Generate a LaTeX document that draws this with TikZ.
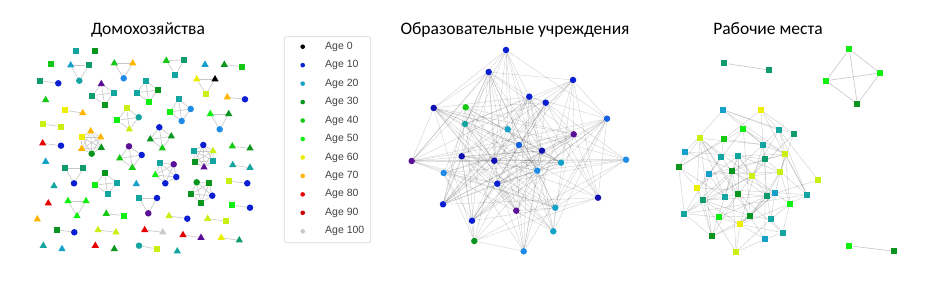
\documentclass[tikz,border=0pt]{standalone}
\usepackage{fontspec}
\setmainfont{Carlito}
\newfontfamily\legfont{Liberation Sans}
\usetikzlibrary{shapes.geometric}
\pgfdeclarelayer{edges}
\pgfsetlayers{edges,main}
\definecolor{cPurple}{HTML}{5A0F96}
\definecolor{cBlue}{HTML}{0A1ED2}
\definecolor{cNavy}{HTML}{1010B0}
\definecolor{cLtBlue}{HTML}{1E8CE6}
\definecolor{cMidBlue}{HTML}{1460E0}
\definecolor{cCyan}{HTML}{14A0C8}
\definecolor{cTeal}{HTML}{14A5A0}
\definecolor{cTealGreen}{HTML}{0F9B6E}
\definecolor{cDkGreen}{HTML}{0A961E}
\definecolor{cGreen}{HTML}{14C814}
\definecolor{cBright}{HTML}{10F010}
\definecolor{cYG}{HTML}{C8F014}
\definecolor{cYellow}{HTML}{EEEE00}
\definecolor{cOrange}{HTML}{FFB400}
\definecolor{cRed}{HTML}{E60000}
\definecolor{cDkRed}{HTML}{C80000}
\definecolor{cGray}{HTML}{C8C8C8}
\definecolor{legtext}{HTML}{444444}
\tikzset{
  ci/.style={circle,inner sep=0pt,minimum size=6.5pt,draw=none},
  sq/.style={rectangle,inner sep=0pt,minimum size=6.3pt,draw=none},
  tr/.style={regular polygon,regular polygon sides=3,inner sep=0pt,minimum size=8.5pt,draw=none},
  hedge/.style={draw=black!22,line width=0.6pt},
  medge/.style={draw=black,opacity=0.16,line width=0.45pt},
  redge/.style={draw=black,opacity=0.18,line width=0.45pt},
  title/.style={font=\fontsize{17.5}{20}\selectfont,anchor=base},
  legdot/.style={circle,inner sep=0pt,minimum size=4.6pt,draw=none},
  legtxt/.style={anchor=west,font=\legfont\fontsize{10.5}{12}\selectfont,text=legtext,inner sep=0pt}
}
\newcommand\hhgroup[2]{%
  \foreach \s/\cc/\px/\py [count=\k] in {#2}{\node[\s,fill=\cc] (#1\k) at (\px,\py) {}; \xdef\hhn{\k}}%
  \begin{pgfonlayer}{edges}
  \foreach \i in {1,...,\hhn}{\foreach \j in {\i,...,\hhn}{\ifnum\j>\i \draw[hedge] (#1\i) -- (#1\j);\fi}}
  \end{pgfonlayer}
}
\begin{document}
\begin{tikzpicture}[x=1pt,y=-1pt]
\useasboundingbox (0,0) rectangle (941,283);
\begin{pgfonlayer}{edges}
\fill[white] (0,0) rectangle (941,283);
\end{pgfonlayer}
% titles
\node[title] (t1) at (148,34.7) {Домохозяйства};
\node[title] (t2) at (515,34.7) {Образовательные учреждения};
\node[title] (t3) at (768,34.7) {Рабочие места};
% ---------- left panel ----------
\hhgroup{sa}{sq/cTeal/76/50.7}
\hhgroup{sb}{sq/cDkGreen/95/50.7}
\hhgroup{sc}{sq/cGreen/51/64.3}
\hhgroup{sd}{tr/cCyan/205/64.7}
\hhgroup{se}{tr/cGreen/45.7/100}
\hhgroup{sf}{tr/cCyan/45.7/161.7}
\hhgroup{sg}{tr/cTeal/54/186}
\hhgroup{sh}{tr/cCyan/136.3/184}
\hhgroup{si}{tr/cRed/48.3/203.3}
\hhgroup{sj}{tr/cOrange/37.3/219.3}
\hhgroup{sk}{tr/cTeal/43.3/245.7}
\hhgroup{sl}{tr/cCyan/62/249}
\hhgroup{sm}{tr/cRed/95.3/245.7}
\hhgroup{sn}{tr/cDkGreen/114.3/249}
\hhgroup{so}{tr/cTeal/177.3/251.3}
\hhgroup{ga}{tr/cCyan/70.7/65.3, sq/cTealGreen/88.7/65.3, ci/cTeal/79.3/80.7}
\hhgroup{gb}{tr/cGreen/114.3/63.3, tr/cOrange/132.7/63.3, ci/cLtBlue/123.7/78.3}
\hhgroup{gc}{tr/cGreen/166.3/60.7, sq/cTealGreen/184.3/60, sq/cTeal/175.3/74.7}
\hhgroup{gd}{tr/cDkGreen/224.3/64.7, sq/cGreen/242/66.7}
\hhgroup{ge}{sq/cTealGreen/40.3/80.7, ci/cBlue/58.3/83.3}
\hhgroup{gf}{tr/cPurple/101.3/84, sq/cTeal/114/92.7, sq/cTealGreen/92.3/95.7, sq/cDkGreen/104.7/105}
\hhgroup{gg}{sq/cTeal/145.7/80.7, sq/cDkGreen/157.7/90, sq/cTeal/136.7/92.7, sq/cBright/148.7/102}
\hhgroup{gh}{tr/cYellow/196.7/79.3, tr/black/215/79.3, sq/cYG/206/94}
\hhgroup{gi}{tr/cOrange/227.3/97.3, ci/cBlue/245/99.3}
\hhgroup{gj}{sq/cTeal/178.7/99.3, ci/cLtBlue/190.7/109, sq/cBright/169.7/112, ci/cLtBlue/181.7/121}
\hhgroup{gk}{sq/cYellow/65/110.3, tr/cOrange/82.7/113}
\hhgroup{gl}{sq/cYG/126.7/108, ci/cTeal/138.7/117.3, sq/cBright/117.3/120.3, tr/cYG/129.3/129.3}
\hhgroup{gm}{tr/cBright/210.3/114, tr/cDkGreen/228.7/114, ci/cLtBlue/219.7/129.3}
\hhgroup{gn}{sq/cYG/43.3/124, sq/cYG/61/126.7}
\hhgroup{go}{tr/cOrange/90.7/131.3, sq/cYellow/81.7/137.3, tr/cOrange/100.7/137.3, tr/cOrange/81.7/148.7, tr/cDkGreen/101.3/147.7, ci/cDkGreen/91.7/153.7}
\hhgroup{gp}{tr/cRed/42.7/143.3, ci/cBlue/61/145.7}
\hhgroup{gq}{ci/cBlue/159.3/127.3, tr/cDkGreen/150.3/139.3, tr/cDkGreen/171.3/136.3, tr/cGreen/162.3/148.3}
\hhgroup{gr}{ci/cBlue/203.3/145, tr/cYG/213/151, sq/cTeal/194/151, sq/cTeal/213.3/160.7, sq/cDkGreen/194.7/162, tr/cPurple/204/167.3}
\hhgroup{gs}{tr/cGreen/232.3/146.3, tr/cDkGreen/250/148.3}
\hhgroup{gt}{ci/cPurple/129/146.3, ci/cBlue/141.7/155, tr/cGreen/119.7/158.3, tr/cGreen/132.3/167.7}
\hhgroup{gu}{tr/cTeal/232.7/165, tr/cTeal/250/167.7}
\hhgroup{gv}{sq/cTealGreen/65/168, sq/cTealGreen/83.3/168, ci/cBlue/74/183.3}
\hhgroup{gw}{sq/cTeal/160.3/163, ci/cPurple/173.7/164.3, tr/cBright/155.3/175, ci/cBlue/176.3/177, ci/cBlue/165.3/183.3}
\hhgroup{gx}{sq/cDkGreen/104.7/173.3, sq/cTeal/116.7/182.7, sq/cBright/95.3/185, sq/cTeal/107.7/194.3}
\hhgroup{gy}{sq/cYG/229.3/181, ci/cBlue/247.3/183.3}
\hhgroup{gz}{ci/cDkGreen/196.7/182.3, sq/cDkGreen/209.3/183.3, sq/cDkGreen/191.3/194, ci/cBlue/212.3/195.7, sq/cDkGreen/201/202.7}
\hhgroup{ha}{tr/cBright/68/201, tr/cBright/86/201, tr/cBright/77/216}
\hhgroup{hb}{sq/cTeal/138.7/198, ci/cBlue/157/198, ci/cPurple/148.3/213.3}
\hhgroup{hc}{sq/cBright/232/205, ci/cBlue/250/207.7}
\hhgroup{hd}{tr/cGreen/106.3/213.7, sq/cBright/124/215.7}
\hhgroup{he}{tr/cYG/169/216, ci/cBlue/187.3/218.7}
\hhgroup{hf}{tr/cYG/207.7/218.7, sq/cYG/225.7/221}
\hhgroup{hg}{sq/cDkGreen/56.7/229.7, ci/cBlue/74.3/232.3}
\hhgroup{hh}{tr/cYG/98/230, tr/cYG/116/232.3}
\hhgroup{hi}{tr/cRed/144.7/230, tr/cGray/162.7/232.3}
\hhgroup{hj}{tr/cRed/183/235, tr/cPurple/201/237.7}
\hhgroup{hk}{tr/cYellow/221.3/237.7, tr/cTealGreen/239.3/240.3}
\hhgroup{hl}{ci/cTeal/139/245.7, sq/cYG/156.7/249}
% ---------- legend ----------
\draw[black!15,rounded corners=2pt,line width=0.7pt] (284.3,36.7) rectangle (370.7,242.7);
\foreach \lab/\cc [count=\k from 0] in {0/black,10/cBlue,20/cCyan,30/cDkGreen,40/cGreen,50/cBright,60/cYellow,70/cOrange,80/cRed,90/cDkRed,100/cGray}{
  \node[legdot,fill=\cc] (ld\k) at (302.7,46.7+18.46*\k) {};
  \node[legtxt] (lt\k) at (325,46.7+18.46*\k) {Age \lab};
}
% ---------- middle panel ----------
\foreach \px/\py/\cc [count=\k] in {506/50/cBlue, 488.7/72/cBlue, 573/80/cBlue, 529.3/96.7/cBlue, 545.7/102.7/cBlue, 433.7/108/cNavy, 465.7/107.3/cGreen, 607/118.7/cMidBlue, 465/124/cTeal, 507.7/129.3/cCyan, 573.7/134.3/cPurple, 519/145/cMidBlue, 542/150.7/cNavy, 411.7/161/cPurple, 461.7/156.3/cNavy, 494.3/160.7/cNavy, 626/159.7/cLtBlue, 561/162.7/cCyan, 443.7/173/cLtBlue, 537.3/170.7/cLtBlue, 497.3/183.7/cBlue, 443/204.3/cBlue, 598/197.7/cNavy, 555.3/207.7/cCyan, 516.3/210.7/cPurple, 472/220.7/cBlue, 553.3/231.3/cCyan, 474.3/241/cDkGreen, 523.7/251.3/cLtBlue}{
  \node[ci,fill=\cc] (m\k) at (\px,\py) {};
}
\pgfmathsetseed{11}
\begin{pgfonlayer}{edges}
\foreach \i in {1,...,29}{\foreach \j in {\i,...,29}{\ifnum\j>\i
  \pgfmathsetmacro\rr{rnd}
  \ifdim\rr pt<0.45pt \draw[medge] (m\i) -- (m\j);\fi
\fi}}
\end{pgfonlayer}
% ---------- right panel ----------
\hhgroup{wa}{sq/cTealGreen/724.3/63.3, sq/cTealGreen/769.3/70}
\hhgroup{wb}{sq/cBright/849.3/49.3, sq/cBright/880.3/73, sq/cBright/826/80.7, sq/cDkGreen/857.3/104}
\hhgroup{wc}{sq/cBright/849/245.7, sq/cDkGreen/894.3/251.3}
\foreach \px/\py/\cc [count=\k] in {723.3/110/cCyan, 761/110/cYellow, 743.3/129.3/cBright, 779/130/cTeal, 793.7/133.7/cTealGreen, 700/138.3/cYG, 723.7/139/cGreen, 763/144.7/cTeal, 685.3/152/cCyan, 785.3/154.3/cYG, 721.3/156.7/cTeal, 738.3/155.7/cTeal, 765.3/159.3/cTealGreen, 678.7/167.3/cDkGreen, 731.7/171.3/cDkGreen, 780.3/172/cYG, 708.7/174.3/cCyan, 751.7/176/cYG, 818/180/cYG, 696.7/187.7/cYellow, 738.3/193.7/cDkGreen, 767/196/cTealGreen, 775/193.3/cCyan, 807/194.7/cTeal, 724.7/197/cTeal, 703.3/200.3/cTealGreen, 789.7/204/cBright, 684.3/213.7/cTeal, 718.7/217/cBright, 750.3/216/cDkGreen, 770.7/219.3/cTeal, 740/224.3/cYellow, 711.7/236.3/cDkGreen, 782.7/232.7/cTeal, 764.7/239.3/cCyan, 736/252/cYG}{
  \node[sq,fill=\cc] (r\k) at (\px,\py) {};
}
\pgfmathsetseed{5}
\begin{pgfonlayer}{edges}
\foreach \i in {1,...,36}{\foreach \j in {\i,...,36}{\ifnum\j>\i
  \pgfpointdiff{\pgfpointanchor{r\i}{center}}{\pgfpointanchor{r\j}{center}}
  \pgfgetlastxy\dx\dy
  \pgfmathsetmacro\dd{veclen(\dx,\dy)}
  \pgfmathsetmacro\pp{\dd<30 ? 0.6 : (\dd<55 ? 0.35 : (\dd<85 ? 0.14 : 0.03))}
  \pgfmathsetmacro\rr{rnd}
  \ifdim\rr pt<\pp pt \draw[redge] (r\i) -- (r\j);\fi
\fi}}
\end{pgfonlayer}
\end{tikzpicture}
\end{document}
